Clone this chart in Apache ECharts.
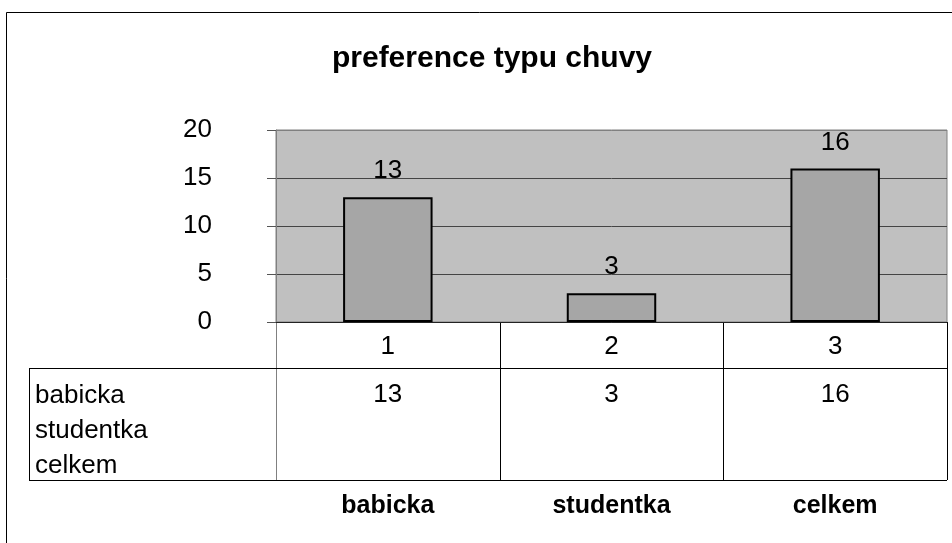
<!DOCTYPE html>
<html>
<head>
<meta charset="utf-8">
<script src="https://cdn.jsdelivr.net/npm/echarts@6/dist/echarts.min.js"></script>
<style>
  * { margin: 0; padding: 0; }
  body { background: #fff; }
  #chart { width: 952px; height: 543px; }
</style>
</head>
<body>
<div id="chart"></div>
<script>
// data
const categories = ["1", "2", "3"];
const values = [13, 3, 16];
const seriesNames = ["babicka", "studentka", "celkem"];
const yTicks = [0, 5, 10, 15, 20];

// layout of the plot area / table
const gridLeft = 276, gridRight = 947, gridTop = 130, zeroY = 322;
const row1Y = 368, tableBottom = 480, tableLeft = 29;
const catW = (gridRight - gridLeft) / categories.length;

const font = "Liberation Sans, Arial, sans-serif";
const chart = echarts.init(document.getElementById("chart"));

// table lines
let tableLines = [];
const line = (x1, y1, x2, y2, color) => ({
  type: "line",
  shape: { x1: x1, y1: y1, x2: x2, y2: y2 },
  style: { stroke: color || "#000", lineWidth: 1 },
  silent: true
});
for (let i = 1; i <= categories.length; i++) {
  let x = Math.round(gridLeft + catW * i) + 0.5;
  tableLines.push(line(x, zeroY, x, tableBottom));
}
tableLines.push(line(gridLeft + 0.5, zeroY, gridLeft + 0.5, tableBottom, "#808080"));
tableLines.push(line(tableLeft, row1Y + 0.5, gridRight, row1Y + 0.5));
tableLines.push(line(tableLeft, tableBottom + 0.5, gridRight, tableBottom + 0.5));
tableLines.push(line(tableLeft + 0.5, row1Y, tableLeft + 0.5, tableBottom));

let option = {
  animation: false,
  backgroundColor: "#fff",
  textStyle: { fontFamily: font },
  title: {
    text: "preference typu chuvy",
    left: 487,
    textAlign: "center",
    top: 39,
    textStyle: { fontSize: 30, fontWeight: "bold", color: "#000", fontFamily: font }
  },
  grid: {
    left: gridLeft,
    right: 952 - gridRight,
    top: gridTop,
    bottom: 543 - zeroY,
    show: true,
    backgroundColor: "#c0c0c0",
    borderColor: "#808080",
    borderWidth: 1
  },
  xAxis: [
    {
      type: "category",
      data: categories,
      axisLine: { show: true, lineStyle: { color: "#222", width: 1 } },
      axisTick: { show: false },
      axisLabel: { fontSize: 26, color: "#000", margin: 12 }
    },
    {
      // hodnoty v tabulce
      type: "category",
      data: values.map(String),
      position: "bottom",
      axisLine: { show: false },
      axisTick: { show: false },
      axisLabel: { fontSize: 26, color: "#000", margin: 60 }
    },
    {
      type: "category",
      data: seriesNames,
      position: "bottom",
      axisLine: { show: false },
      axisTick: { show: false },
      axisLabel: { fontSize: 25, fontWeight: "bold", color: "#000", margin: 172 }
    }
  ],
  yAxis: {
    type: "value",
    min: yTicks[0],
    max: yTicks[yTicks.length - 1],
    interval: 5,
    axisLine: { show: true, lineStyle: { color: "#808080" } },
    axisTick: { show: true, length: 9, lineStyle: { color: "#555" } },
    axisLabel: { fontSize: 26, color: "#000", margin: 64, padding: [4, 0, 0, 0] },
    splitLine: { show: true, lineStyle: { color: ["#222", "#444", "#444", "#444", "#808080"], width: 1 } }
  },
  series: [
    {
      type: "bar",
      data: values,
      barWidth: "40%",
      itemStyle: { color: "#a6a6a6", borderColor: "#000", borderWidth: 2 },
      label: { show: true, position: "top", distance: 13, fontSize: 26, color: "#000" }
    }
  ],
  graphic: [
    {
      type: "rect",
      shape: { x: 6.5, y: 12.5, width: 1200, height: 1200 },
      style: { fill: "none", stroke: "#000", lineWidth: 1 },
      silent: true
    },
    {
      type: "text",
      left: 35,
      top: 378,
      style: {
        text: seriesNames.join("\n"),
        fontSize: 26,
        lineHeight: 35,
        fill: "#000",
        fontFamily: font
      }
    }
  ].concat(tableLines)
};
chart.setOption(option);
</script>
</body>
</html>
